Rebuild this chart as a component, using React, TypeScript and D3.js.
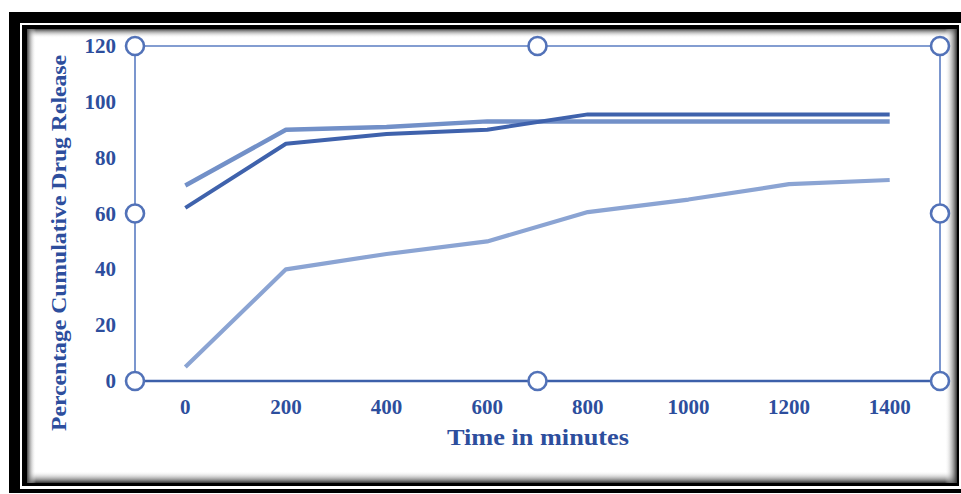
import React from "react";
import * as d3 from "d3";

const categories = ["0", "200", "400", "600", "800", "1000", "1200", "1400"];
const seriesDark = [62, 85, 88.5, 90, 95.5, 95.5, 95.5, 95.5];
const seriesMedium = [70, 90, 91, 93, 93, 93, 93, 93];
const seriesLight = [5, 40, 45.5, 50, 60.5, 65, 70.5, 72];
const yTicks = [0, 20, 40, 60, 80, 100, 120];
const xTitle = "Time in minutes";
const yTitle = "Percentage Cumulative Drug Release";

const W = 961;
const H = 494;
const box = { left: 135, right: 940, top: 46, bottom: 381 };
const textColor = "#2d4e9d";
const font = "'Liberation Serif', 'Times New Roman', serif";

export default function App() {
  const x = d3.scalePoint<string>().domain(categories).range([box.left, box.right]).padding(0.5);
  const y = d3.scaleLinear().domain([0, 120]).range([box.bottom, box.top]);
  const line = d3
    .line<number>()
    .x((_, i) => x(categories[i]) as number)
    .y((d) => y(d));

  const midX = (box.left + box.right) / 2;
  const midY = (box.top + box.bottom) / 2;
  const handles = [
    [box.left, box.top],
    [midX, box.top],
    [box.right, box.top],
    [box.left, midY],
    [box.right, midY],
    [box.left, box.bottom],
    [midX, box.bottom],
    [box.right, box.bottom],
  ];

  const sh = 9;
  return (
    <svg width={W} height={H} style={{ position: "absolute", left: 0, top: 0, background: "#fff" }}>
      <defs>
        <linearGradient id="gT" x1="0" y1="0" x2="0" y2="1">
          <stop offset="0" stopColor="#444" />
          <stop offset="1" stopColor="#fff" stopOpacity="0" />
        </linearGradient>
        <linearGradient id="gB" x1="0" y1="1" x2="0" y2="0">
          <stop offset="0" stopColor="#333" />
          <stop offset="1" stopColor="#fff" stopOpacity="0" />
        </linearGradient>
        <linearGradient id="gL" x1="0" y1="0" x2="1" y2="0">
          <stop offset="0" stopColor="#444" />
          <stop offset="1" stopColor="#fff" stopOpacity="0" />
        </linearGradient>
        <linearGradient id="gR" x1="1" y1="0" x2="0" y2="0">
          <stop offset="0" stopColor="#333" />
          <stop offset="1" stopColor="#fff" stopOpacity="0" />
        </linearGradient>
      </defs>
      <rect x={0} y={0} width={W} height={H} fill="#fff" />
      {/* frame */}
      <rect x={9} y={12} width={960} height={481} fill="#000" />
      <rect x={20} y={23} width={950} height={466} fill="#fff" />
      <rect x={22} y={25} width={937} height={461} fill="#000" />
      <rect x={27} y={29} width={930} height={454} fill="#fff" />
      <rect x={27} y={29} width={930} height={sh} fill="url(#gT)" />
      <rect x={27} y={483 - sh - 3} width={930} height={sh + 3} fill="url(#gB)" />
      <rect x={27} y={29} width={sh} height={454} fill="url(#gL)" />
      <rect x={957 - sh - 3} y={29} width={sh + 3} height={454} fill="url(#gR)" />

      {/* plot frame */}
      <line x1={box.left} x2={box.right} y1={box.top} y2={box.top} stroke="#5a7cc2" strokeWidth={1.6} />
      <line x1={box.left} x2={box.left} y1={box.top} y2={box.bottom} stroke="#5a7cc2" strokeWidth={1.6} />
      <line x1={box.right} x2={box.right} y1={box.top} y2={box.bottom} stroke="#5a7cc2" strokeWidth={1.6} />
      <line x1={box.left} x2={box.right} y1={box.bottom} y2={box.bottom} stroke="#3d60aa" strokeWidth={2.6} />

      {/* series */}
      <path d={line(seriesLight) || ""} fill="none" stroke="#8ba4d3" strokeWidth={4.2} strokeLinejoin="round" />
      <path d={line(seriesMedium) || ""} fill="none" stroke="#7290c8" strokeWidth={4.5} strokeLinejoin="round" />
      <path d={line(seriesDark) || ""} fill="none" stroke="#3f62ac" strokeWidth={4} strokeLinejoin="round" />

      {/* handles */}
      {handles.map(([hx, hy], i) => (
        <circle key={i} cx={hx} cy={hy} r={9} fill="#fff" stroke="#5272b8" strokeWidth={2.6} />
      ))}

      {/* y tick labels */}
      {yTicks.map((t) => (
        <text
          key={t}
          x={116}
          y={y(t)}
          textAnchor="end"
          dominantBaseline="central"
          fontFamily={font}
          fontWeight="bold"
          fontSize={21}
          fill={textColor}
        >
          {t}
        </text>
      ))}
      {/* x tick labels */}
      {categories.map((c) => (
        <text
          key={c}
          x={x(c) as number}
          y={407}
          textAnchor="middle"
          dominantBaseline="central"
          fontFamily={font}
          fontWeight="bold"
          fontSize={21}
          fill={textColor}
        >
          {c}
        </text>
      ))}
      <text
        x={538}
        y={445}
        textAnchor="middle"
        fontFamily={font}
        fontWeight="bold"
        fontSize={23}
        fill={textColor}
        textLength={182}
        lengthAdjust="spacingAndGlyphs"
      >
        {xTitle}
      </text>
      <text
        transform={`translate(66,243) rotate(-90)`}
        textAnchor="middle"
        fontFamily={font}
        fontWeight="bold"
        fontSize={21}
        fill={textColor}
        textLength={376}
        lengthAdjust="spacingAndGlyphs"
      >
        {yTitle}
      </text>
    </svg>
  );
}
